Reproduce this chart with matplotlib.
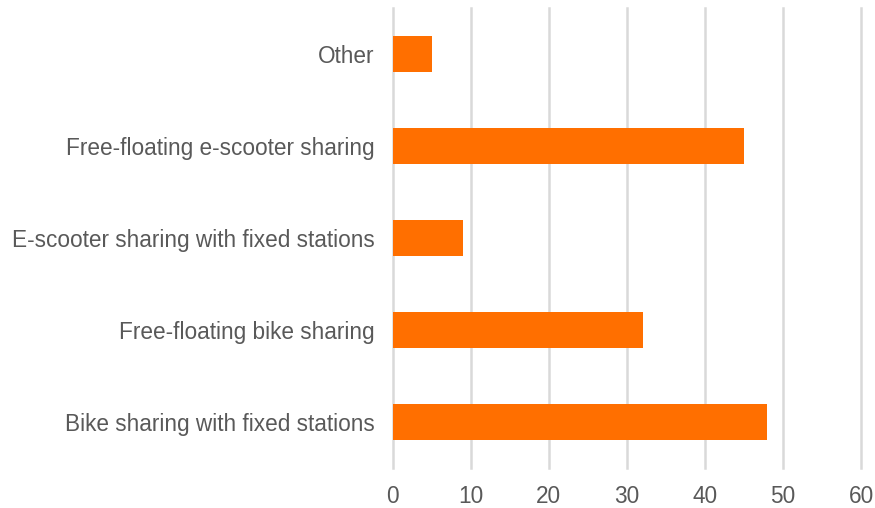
import matplotlib
matplotlib.use("Agg")
import matplotlib.pyplot as plt

categories = ["Bike sharing with fixed stations", "Free-floating bike sharing",
              "E-scooter sharing with fixed stations", "Free-floating e-scooter sharing", "Other"]
values = [48, 32, 9, 45, 5]
xticks = [0, 10, 20, 30, 40, 50, 60]

plt.rcParams['font.family'] = ['Liberation Sans', 'DejaVu Sans']
fig = plt.figure(figsize=(8.75, 5.08), dpi=100)
ax = fig.add_axes([0.449, 0.079, 0.535, 0.905])
ax.barh(range(len(categories)), values, height=0.39, color="#FF6F00", zorder=3)
ax.set_xlim(0, 60)
ax.set_ylim(-0.5, len(categories) - 0.5)
ax.set_xticks(xticks)
ax.set_yticks(range(len(categories)))
ax.set_yticklabels(categories)
ax.grid(axis="x", color="#D9D9D9", linewidth=1.8, zorder=0)
for gl in ax.get_xgridlines():
    gl.set_clip_on(False)
for s in ax.spines.values():
    s.set_visible(False)
ax.tick_params(axis="both", length=0, labelsize=16.3, labelcolor="#595959")
ax.tick_params(axis="y", pad=13)
ax.tick_params(axis="x", pad=12)
fig.savefig("out.png", dpi=100)
